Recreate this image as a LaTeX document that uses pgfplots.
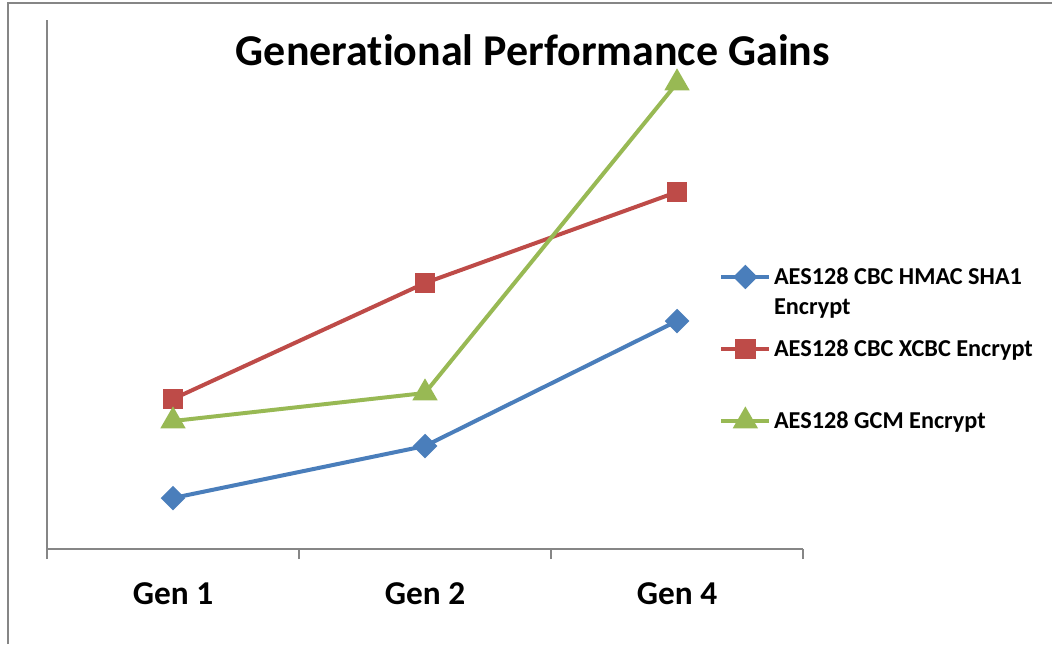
\documentclass[border=0pt]{standalone}
\usepackage{fontspec}
\setmainfont{Carlito}[Ligatures=NoCommon]
\usepackage{pgfplots}
\pgfplotsset{compat=1.18}
\definecolor{cblue}{HTML}{4A7EBB}
\definecolor{cred}{HTML}{BE4B48}
\definecolor{cgreen}{HTML}{98B954}
\definecolor{axisgray}{HTML}{868686}
\begin{document}
\begin{tikzpicture}[x=0.75pt,y=-0.75pt]
\path[use as bounding box] (0,0) rectangle (1052,644);
\draw[color=axisgray, line width=0.9pt] (8,644) -- (8,3) -- (1052,3);
\node[font=\fontsize{33}{38}\selectfont\bfseries] at (533,50) {Generational Performance Gains};
\begin{axis}[
  at={(35.25pt,-411.75pt)}, anchor=south west,
  scale only axis, width=567pt, height=396.75pt,
  xmin=-0.5, xmax=2.5, ymin=0, ymax=529,
  axis x line*=bottom, axis y line*=left,
  axis line style={-, draw=axisgray, line width=1pt},
  xtick={0,1,2}, xticklabels={Gen 1,Gen 2,Gen 4},
  major tick length=0pt,
  minor xtick={-0.5,0.5,1.5,2.5}, minor tick length=7.5pt, tick align=outside,
  ytick=\empty,
  tick style={draw=axisgray, line width=1pt},
  xticklabel style={font=\fontsize{25}{28}\selectfont\bfseries, anchor=base, yshift=-41.25pt},
  clip=false,
  legend style={at={(axis description cs:0.889,0.537)}, anchor=north west, draw=none, fill=none,
    font=\fontsize{18.2}{22.5}\selectfont\bfseries, row sep=13.5pt, inner sep=0pt,
    cells={anchor=base west, align=left, inner xsep=1.5pt}},
  legend image code/.code={\draw[mark repeat=2,mark phase=2,#1] plot coordinates {(0pt,28.3pt) (18pt,28.3pt) (36pt,28.3pt)};},
]
\addplot[cblue, line width=3pt, mark=square*, mark size=5pt, mark options={rotate=45}] coordinates {(0,51) (1,103) (2,228)};
\addlegendentry{AES128 CBC HMAC SHA1\\Encrypt\strut}
\addplot[cred, line width=3pt, mark=square*, mark size=6.3pt] coordinates {(0,150) (1,266) (2,357)};
\addlegendentry{AES128 CBC XCBC Encrypt\\\strut}
\addplot[cgreen, line width=3pt, mark=triangle*, mark size=8pt] coordinates {(0,128) (1,156) (2,466)};
\addlegendentry{AES128 GCM Encrypt\\\strut}
\end{axis}
\end{tikzpicture}
\end{document}
